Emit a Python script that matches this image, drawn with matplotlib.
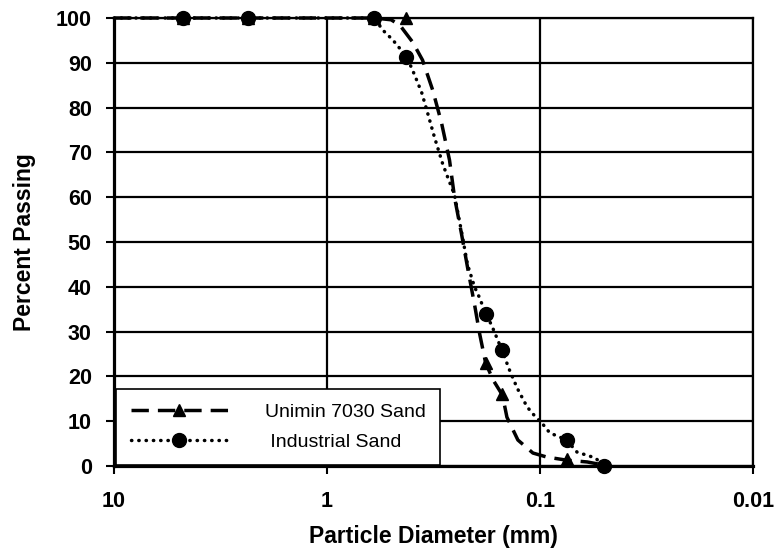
import numpy as np
import matplotlib.pyplot as plt
from matplotlib.lines import Line2D

plt.rcParams['font.family'] = ['Liberation Sans', 'DejaVu Sans']

# -----------------------------
# data (diameter in mm, percent passing)
# -----------------------------
# Unimin 7030 Sand: smooth curve trace and marker points
unimin_curve_d = [10, 0.6, 0.5, 0.455, 0.396, 0.356, 0.319, 0.290, 0.266, 0.252,
                  0.234, 0.219, 0.202, 0.192, 0.18, 0.166, 0.15, 0.143, 0.127,
                  0.108, 0.093, 0.075, 0.060, 0.05]
unimin_curve_p = [100, 100, 99.6, 98.4, 94.6, 90.6, 83.9, 76.6, 68.3, 60.0,
                  52.0, 44.4, 35.5, 29.5, 23.0, 19.2, 15.8, 10.9, 5.8,
                  2.9, 2.0, 1.3, 0.9, 0.2]
unimin_mark_d = [4.75, 2.36, 0.6, 0.425, 0.18, 0.15, 0.075]
unimin_mark_p = [100, 100, 100, 100, 23, 16, 1.5]

# Industrial Sand
ind_curve_d = [10, 0.6, 0.547, 0.491, 0.422, 0.388, 0.359, 0.337, 0.313, 0.287,
               0.274, 0.252, 0.234, 0.219, 0.203, 0.192, 0.18, 0.169, 0.151,
               0.139, 0.128, 0.115, 0.106, 0.098, 0.090, 0.075, 0.067, 0.055, 0.05]
ind_curve_p = [100, 100, 97.3, 95.1, 91.3, 87.3, 83.3, 78.8, 73.4, 67.6,
               65.0, 60.5, 52.5, 45.0, 40.0, 37.5, 34.0, 31.5, 25.9,
               21.4, 17.4, 13.2, 11.2, 9.6, 7.4, 5.8, 3.1, 1.8, 0.0]
ind_mark_d = [4.75, 2.36, 0.6, 0.425, 0.18, 0.15, 0.075, 0.05]
ind_mark_p = [100, 100, 100, 91.3, 34, 26, 5.8, 0]

y_ticks = [0, 10, 20, 30, 40, 50, 60, 70, 80, 90, 100]
x_ticks = [10, 1, 0.1, 0.01]
x_tick_labels = ['10', '1', '0.1', '0.01']

fig = plt.figure(figsize=(7.79, 5.58), dpi=100)
ax = fig.add_axes([114 / 779, 1 - 466 / 558, 639 / 779, 448 / 558])

lw = 2.5
dash = (0, (5, 2.6))
dots = (0, (0.1, 2.0))
ax.plot(unimin_curve_d, unimin_curve_p, color='black', lw=lw,
        linestyle=dash, dash_capstyle='butt', zorder=3, clip_on=False)
ax.plot(ind_curve_d, ind_curve_p, color='black', lw=lw,
        linestyle=dots, dash_capstyle='round', zorder=3, clip_on=False)
ax.plot(unimin_mark_d, unimin_mark_p, linestyle='none', marker='^',
        ms=9, color='black', zorder=4, clip_on=False)
ax.plot(ind_mark_d, ind_mark_p, linestyle='none', marker='o',
        ms=10, color='black', zorder=5, clip_on=False)

ax.set_xscale('log')
ax.set_xlim(10, 0.01)
ax.set_ylim(0, 100)
ax.set_xticks(x_ticks)
ax.set_xticklabels(x_tick_labels)
ax.set_yticks(y_ticks)
ax.minorticks_off()
ax.grid(True, color='black', lw=1.6)
ax.set_axisbelow(True)

for s in ax.spines.values():
    s.set_linewidth(1.6)
ax.spines['left'].set_linewidth(2.3)
ax.spines['bottom'].set_linewidth(2.3)

ax.tick_params(axis='y', direction='out', length=6, width=1.5, pad=10,
               labelsize=15.5)
ax.tick_params(axis='x', direction='out', length=6, width=1.5, pad=12,
               labelsize=15.5)
for t in ax.get_xticklabels() + ax.get_yticklabels():
    t.set_fontweight('bold')

fig.text(25 / 779, 1 - 242 / 558, 'Percent Passing', rotation=90,
         ha='center', va='center', fontsize=16.5, fontweight='bold')
fig.text(433.5 / 779, 1 - 537 / 558, 'Particle Diameter (mm)',
         ha='center', va='center', fontsize=16.5, fontweight='bold')

handles = [
    Line2D([], [], color='black', lw=lw, linestyle=dash, marker='^', ms=9),
    Line2D([], [], color='black', lw=lw, linestyle=dots,
           dash_capstyle='round', marker='o', ms=10),
]
leg = ax.legend(handles, ['Unimin 7030 Sand', ' Industrial Sand'],
                loc='lower left', bbox_to_anchor=(0.003, 0.002),
                fontsize=14, numpoints=1, handlelength=5.0,
                handletextpad=1.9, borderpad=0.75, labelspacing=0.6,
                borderaxespad=0, fancybox=False, framealpha=1,
                edgecolor='black')
leg.get_frame().set_linewidth(1.2)

fig.savefig('out.png', dpi=100)
